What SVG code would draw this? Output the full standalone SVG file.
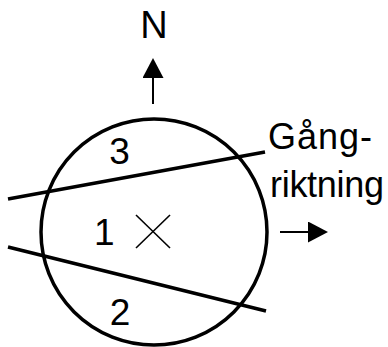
<svg xmlns="http://www.w3.org/2000/svg" width="388" height="347" viewBox="0 0 388 347">
<style>
.t{font-family:"Liberation Sans",Arial,sans-serif;font-size:36px;fill:#000}
.thick{stroke:#000;stroke-width:3.5;fill:none}
.thin{stroke:#000;stroke-width:2;fill:none}
</style>
<defs>
<marker id="ah" viewBox="0 0 20 21" refX="0" refY="10.5" markerWidth="20" markerHeight="21" markerUnits="userSpaceOnUse" orient="auto">
<path d="M0,0 L20,10.5 L0,21 Z" fill="#000"/>
</marker>
</defs>
<rect width="388" height="347" fill="#fff"/>
<g id="circle">
<circle class="thick" cx="154" cy="232" r="113"/>
</g>
<g id="connectors">
<line class="thick" x1="8" y1="199" x2="265" y2="152"/>
<line class="thick" x1="8" y1="247" x2="266" y2="311"/>
<line class="thin" x1="153" y1="104" x2="153" y2="78" marker-end="url(#ah)"/>
<line class="thin" x1="280" y1="232" x2="308" y2="232" marker-end="url(#ah)"/>
</g>
<g id="center-mark">
<line x1="136" y1="215" x2="170" y2="248" stroke="#000" stroke-width="1.6"/>
<line x1="170" y1="215" x2="136" y2="248" stroke="#000" stroke-width="1.6"/>
</g>
<g id="labels">
<text class="t" x="154" y="38" text-anchor="middle" style="font-size:38px">N</text>
<text class="t" x="119.5" y="164" text-anchor="middle" style="font-size:37px">3</text>
<text class="t" x="94" y="245" style="font-size:37px">1</text>
<text class="t" x="120" y="325" text-anchor="middle" style="font-size:37px">2</text>
<text class="t" x="268" y="149" textLength="104">Gång-</text>
<text class="t" x="270" y="197" textLength="114">riktning</text>
</g>
</svg>
